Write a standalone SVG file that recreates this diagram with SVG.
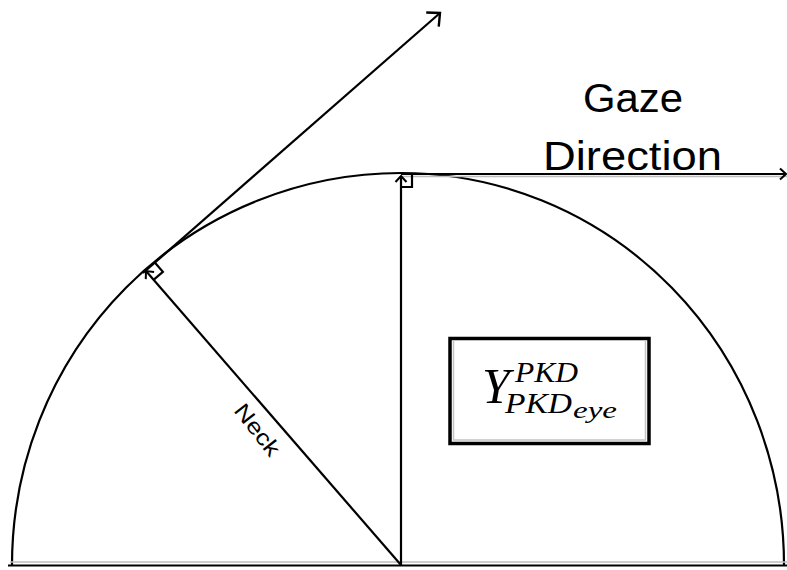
<svg xmlns="http://www.w3.org/2000/svg" width="787" height="570" viewBox="0 0 787 570">
<style>
.ln{fill:none;stroke:#000;stroke-width:2.2}
.sh{fill:none;stroke:#bdbdbd;stroke-width:1.5}
.lbl{font-family:"Liberation Sans",Arial,sans-serif;fill:#000}
.math{font-family:"Liberation Serif","Times New Roman",serif;font-style:italic;fill:#000}
</style>
<defs>
<marker id="big" markerUnits="userSpaceOnUse" markerWidth="30" markerHeight="30" viewBox="-15 -15 30 30" refX="0" refY="0" orient="auto" overflow="visible">
<path d="M -10 -9.5 L 0 0 L -10 9.5" fill="none" stroke="#000" stroke-width="2.4"/>
</marker>
<marker id="small" markerUnits="userSpaceOnUse" markerWidth="20" markerHeight="20" viewBox="-10 -10 20 20" refX="0" refY="0" orient="auto" overflow="visible">
<path d="M -6 -5.5 L 0 0 L -6 5.5" fill="none" stroke="#000" stroke-width="2"/>
</marker>
</defs>
<rect width="787" height="570" fill="#fff"/>
<g id="connectors">
<path id="arc" class="ln" d="M 12 565 A 389 392 0 0 1 401 173 A 383 392 0 0 1 784 565"/>
<line class="sh" x1="10" y1="562" x2="787" y2="562"/>
<line id="base" class="ln" x1="8" y1="565.5" x2="787" y2="565.5"/>
<line class="sh" x1="401" y1="176.5" x2="787" y2="176.5"/>
<line id="gaze" class="ln" x1="401" y1="174" x2="786" y2="174" marker-end="url(#small)"/>
<line id="vertical" class="ln" x1="401" y1="565" x2="401" y2="176" marker-end="url(#small)"/>
<line id="neck" class="ln" x1="401" y1="565" x2="146" y2="271" marker-end="url(#small)"/>
<line id="tangent" class="ln" x1="143" y1="273" x2="440" y2="13" marker-end="url(#big)"/>
<path id="rightangle-top" class="ln" d="M 401 187 L 412 187 L 412 174"/>
<path id="rightangle-neck" class="ln" d="M 153.8 279.6 L 162.9 271.8 L 155 262.7"/>
</g>
<g id="gaze-label">
<text class="lbl" x="583" y="112" font-size="40" textLength="100" lengthAdjust="spacingAndGlyphs">Gaze</text>
<text class="lbl" x="543" y="170" font-size="40" textLength="179" lengthAdjust="spacingAndGlyphs">Direction</text>
</g>
<g id="neck-label" transform="translate(257,430) rotate(52)">
<text class="lbl" x="0" y="7" font-size="22" text-anchor="middle" textLength="60" lengthAdjust="spacingAndGlyphs">Neck</text>
</g>
<g id="formula-box">
<rect x="450" y="338.5" width="199" height="105" fill="#fff" stroke="#000" stroke-width="3.5"/>
<path d="M 453.5 341 L 453.5 440 L 645.5 440 L 645.5 341" fill="none" stroke="#c4c4c4" stroke-width="1.5"/>
<text class="math" x="482" y="403" font-size="50">Y</text>
<text class="math" x="515" y="382" font-size="30" textLength="63" lengthAdjust="spacingAndGlyphs">PKD</text>
<text class="math" x="505" y="413" font-size="30" textLength="67" lengthAdjust="spacingAndGlyphs">PKD</text>
<text class="math" x="573" y="418" font-size="24" textLength="44" lengthAdjust="spacingAndGlyphs">eye</text>
</g>
</svg>
